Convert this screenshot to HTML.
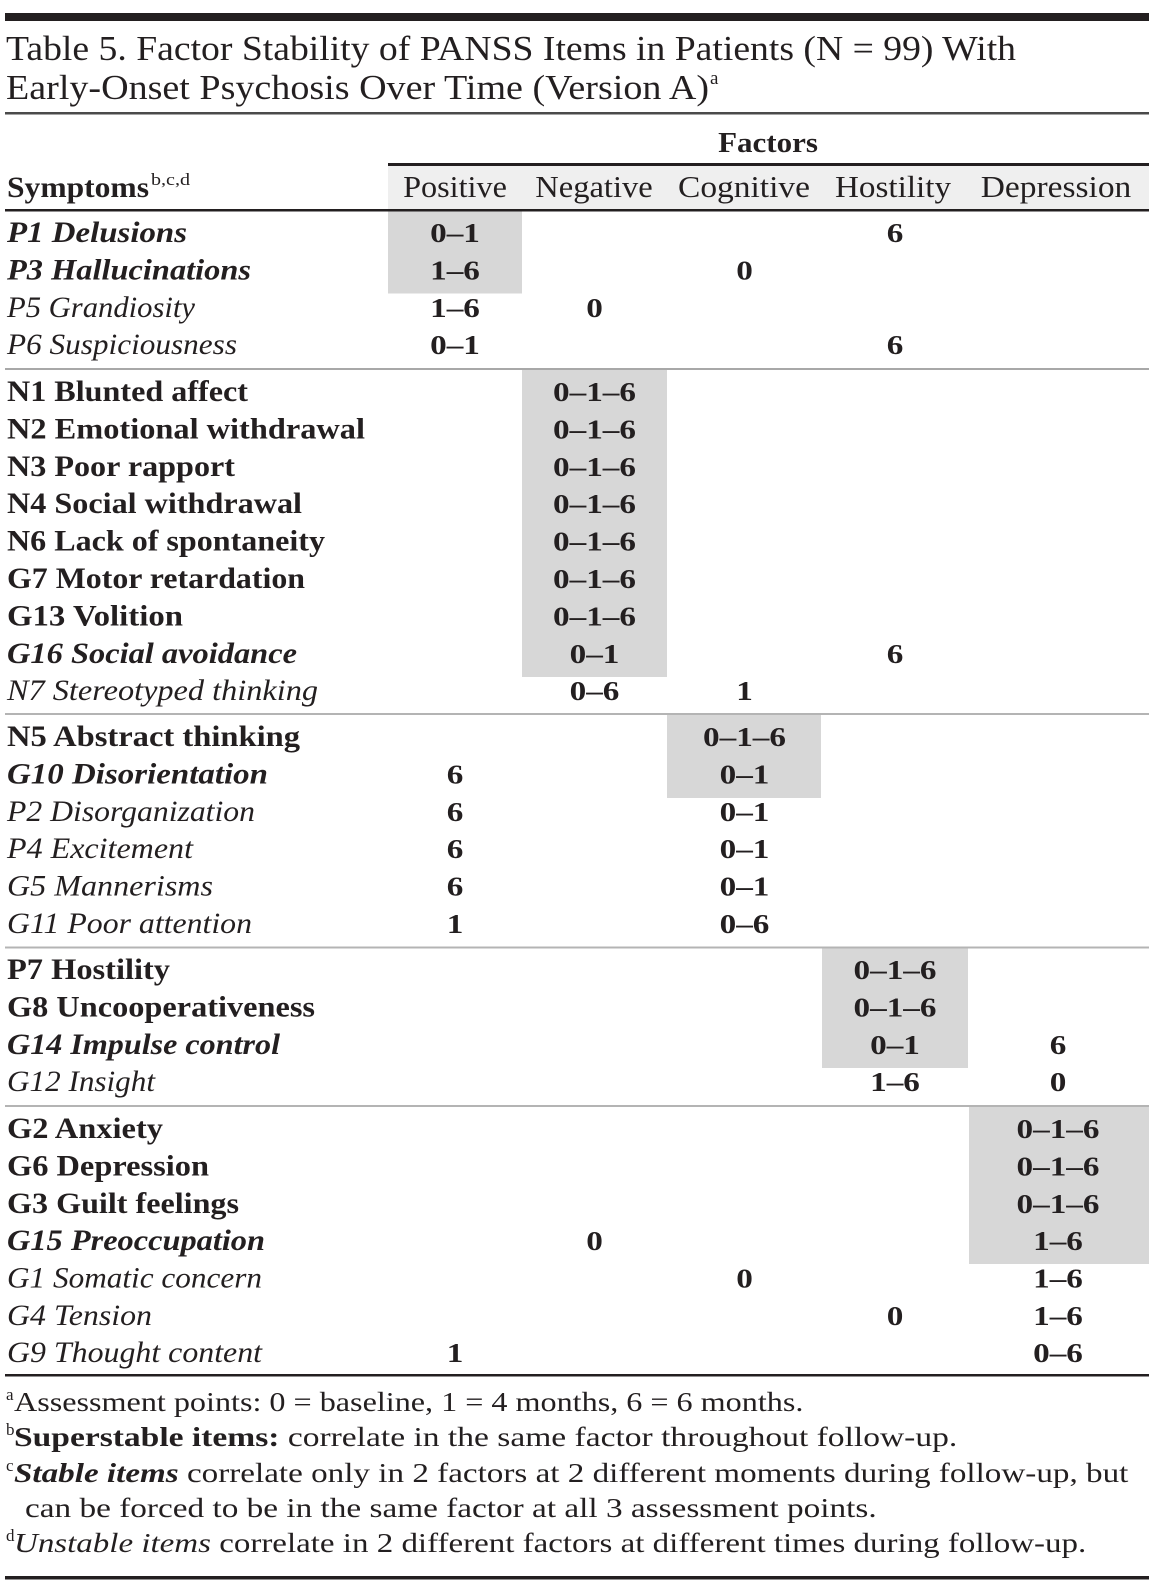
<!DOCTYPE html>
<html>
<head>
<meta charset="utf-8">
<style>
html,body{margin:0;padding:0;background:#fff;}
svg{display:block;}
text{font-family:"Liberation Serif","DejaVu Serif",serif;fill:#231f20;}
.l{font-size:29.5px;}
.b{font-weight:bold;}
.i{font-style:italic;}
.n{font-size:27px;font-weight:bold;text-anchor:middle;}
.h{font-size:31px;text-anchor:middle;}
.f{font-size:27.5px;}
.s{font-size:17px;}
</style>
</head>
<body>
<svg width="1158" height="1584" viewBox="0 0 1158 1584" xmlns="http://www.w3.org/2000/svg">
<rect x="0" y="0" width="1158" height="1584" fill="#fff"/>

<!-- top bar -->
<rect x="5" y="13" width="1144" height="8" fill="#231f20"/>

<!-- title -->
<text x="6" y="60" font-size="35" textLength="1010" lengthAdjust="spacingAndGlyphs">Table 5. Factor Stability of PANSS Items in Patients (N = 99) With</text>
<text x="6" y="99" font-size="35" textLength="703" lengthAdjust="spacingAndGlyphs">Early-Onset Psychosis Over Time (Version A)</text>
<text x="710" y="84" font-size="19">a</text>

<!-- title rule -->
<rect x="5" y="112" width="1144" height="2.5" fill="#4a4a4a"/>

<!-- Factors -->
<text class="b" font-size="29" text-anchor="middle" transform="translate(768,152) scale(1.07,1)">Factors</text>
<rect x="388" y="163" width="761" height="3" fill="#231f20"/>

<!-- header background -->
<rect x="388" y="166" width="761" height="43" fill="#efefef"/>

<!-- shaded blocks -->
<rect x="388" y="211.5" width="134" height="82" fill="#d7d7d7"/>
<rect x="522" y="370" width="145" height="307" fill="#d7d7d7"/>
<rect x="667" y="715" width="154" height="83" fill="#d7d7d7"/>
<rect x="822" y="948" width="146" height="120" fill="#d7d7d7"/>
<rect x="969" y="1107" width="180" height="157" fill="#d7d7d7"/>

<!-- header text -->
<text x="7" y="197" class="b" font-size="30" textLength="142" lengthAdjust="spacingAndGlyphs">Symptoms</text>
<text x="151" y="185" class="s" textLength="39" lengthAdjust="spacingAndGlyphs">b,c,d</text>
<text class="h" transform="translate(455,197) scale(1.04,1)">Positive</text>
<text class="h" transform="translate(594,197) scale(1.05,1)">Negative</text>
<text class="h" transform="translate(744,197) scale(1.08,1)">Cognitive</text>
<text class="h" transform="translate(893,197) scale(1.07,1)">Hostility</text>
<text class="h" transform="translate(1056,197) scale(1.08,1)">Depression</text>

<rect x="5" y="209" width="1144" height="2.5" fill="#231f20"/>

<!-- group separators -->
<rect x="5" y="368" width="1144" height="2" fill="#a8a8a8"/>
<rect x="5" y="713" width="1144" height="2" fill="#b4b4b4"/>
<rect x="5" y="946.5" width="1144" height="2" fill="#b4b4b4"/>
<rect x="5" y="1105" width="1144" height="2" fill="#b4b4b4"/>
<rect x="5" y="1374" width="1144" height="2.5" fill="#231f20"/>

<!-- Group 1 -->
<text x="7" y="242" class="l b i" textLength="180" lengthAdjust="spacingAndGlyphs">P1 Delusions</text>
<text x="7" y="279.4" class="l b i" textLength="244" lengthAdjust="spacingAndGlyphs">P3 Hallucinations</text>
<text x="7" y="316.8" class="l i" textLength="188" lengthAdjust="spacingAndGlyphs">P5 Grandiosity</text>
<text x="7" y="354.2" class="l i" textLength="230" lengthAdjust="spacingAndGlyphs">P6 Suspiciousness</text>

<text class="n" transform="translate(455,242) scale(1.23,1)">0–1</text>
<text class="n" transform="translate(895,242) scale(1.23,1)">6</text>
<text class="n" transform="translate(455,279.4) scale(1.23,1)">1–6</text>
<text class="n" transform="translate(744.5,279.4) scale(1.23,1)">0</text>
<text class="n" transform="translate(455,316.8) scale(1.23,1)">1–6</text>
<text class="n" transform="translate(594.5,316.8) scale(1.23,1)">0</text>
<text class="n" transform="translate(455,354.2) scale(1.23,1)">0–1</text>
<text class="n" transform="translate(895,354.2) scale(1.23,1)">6</text>

<!-- Group 2 -->
<text x="7" y="401" class="l b" textLength="241" lengthAdjust="spacingAndGlyphs">N1 Blunted affect</text>
<text x="7" y="438.4" class="l b" textLength="358" lengthAdjust="spacingAndGlyphs">N2 Emotional withdrawal</text>
<text x="7" y="475.8" class="l b" textLength="228" lengthAdjust="spacingAndGlyphs">N3 Poor rapport</text>
<text x="7" y="513.2" class="l b" textLength="295" lengthAdjust="spacingAndGlyphs">N4 Social withdrawal</text>
<text x="7" y="550.6" class="l b" textLength="318" lengthAdjust="spacingAndGlyphs">N6 Lack of spontaneity</text>
<text x="7" y="588" class="l b" textLength="298" lengthAdjust="spacingAndGlyphs">G7 Motor retardation</text>
<text x="7" y="625.4" class="l b" textLength="176" lengthAdjust="spacingAndGlyphs">G13 Volition</text>
<text x="7" y="662.8" class="l b i" textLength="290" lengthAdjust="spacingAndGlyphs">G16 Social avoidance</text>
<text x="7" y="700.2" class="l i" textLength="311" lengthAdjust="spacingAndGlyphs">N7 Stereotyped thinking</text>

<text class="n" transform="translate(594.5,401) scale(1.23,1)">0–1–6</text>
<text class="n" transform="translate(594.5,438.4) scale(1.23,1)">0–1–6</text>
<text class="n" transform="translate(594.5,475.8) scale(1.23,1)">0–1–6</text>
<text class="n" transform="translate(594.5,513.2) scale(1.23,1)">0–1–6</text>
<text class="n" transform="translate(594.5,550.6) scale(1.23,1)">0–1–6</text>
<text class="n" transform="translate(594.5,588) scale(1.23,1)">0–1–6</text>
<text class="n" transform="translate(594.5,625.4) scale(1.23,1)">0–1–6</text>
<text class="n" transform="translate(594.5,662.8) scale(1.23,1)">0–1</text>
<text class="n" transform="translate(895,662.8) scale(1.23,1)">6</text>
<text class="n" transform="translate(594.5,700.2) scale(1.23,1)">0–6</text>
<text class="n" transform="translate(744.5,700.2) scale(1.23,1)">1</text>

<!-- Group 3 -->
<text x="7" y="746" class="l b" textLength="293" lengthAdjust="spacingAndGlyphs">N5 Abstract thinking</text>
<text x="7" y="783.4" class="l b i" textLength="261" lengthAdjust="spacingAndGlyphs">G10 Disorientation</text>
<text x="7" y="820.8" class="l i" textLength="248" lengthAdjust="spacingAndGlyphs">P2 Disorganization</text>
<text x="7" y="858.2" class="l i" textLength="186" lengthAdjust="spacingAndGlyphs">P4 Excitement</text>
<text x="7" y="895.6" class="l i" textLength="206" lengthAdjust="spacingAndGlyphs">G5 Mannerisms</text>
<text x="7" y="933" class="l i" textLength="245" lengthAdjust="spacingAndGlyphs">G11 Poor attention</text>

<text class="n" transform="translate(744.5,746) scale(1.23,1)">0–1–6</text>
<text class="n" transform="translate(455,783.4) scale(1.23,1)">6</text>
<text class="n" transform="translate(744.5,783.4) scale(1.23,1)">0–1</text>
<text class="n" transform="translate(455,820.8) scale(1.23,1)">6</text>
<text class="n" transform="translate(744.5,820.8) scale(1.23,1)">0–1</text>
<text class="n" transform="translate(455,858.2) scale(1.23,1)">6</text>
<text class="n" transform="translate(744.5,858.2) scale(1.23,1)">0–1</text>
<text class="n" transform="translate(455,895.6) scale(1.23,1)">6</text>
<text class="n" transform="translate(744.5,895.6) scale(1.23,1)">0–1</text>
<text class="n" transform="translate(455,933) scale(1.23,1)">1</text>
<text class="n" transform="translate(744.5,933) scale(1.23,1)">0–6</text>

<!-- Group 4 -->
<text x="7" y="979" class="l b" textLength="163" lengthAdjust="spacingAndGlyphs">P7 Hostility</text>
<text x="7" y="1016.4" class="l b" textLength="308" lengthAdjust="spacingAndGlyphs">G8 Uncooperativeness</text>
<text x="7" y="1053.8" class="l b i" textLength="273" lengthAdjust="spacingAndGlyphs">G14 Impulse control</text>
<text x="7" y="1091.2" class="l i" textLength="148" lengthAdjust="spacingAndGlyphs">G12 Insight</text>

<text class="n" transform="translate(895,979) scale(1.23,1)">0–1–6</text>
<text class="n" transform="translate(895,1016.4) scale(1.23,1)">0–1–6</text>
<text class="n" transform="translate(895,1053.8) scale(1.23,1)">0–1</text>
<text class="n" transform="translate(1058,1053.8) scale(1.23,1)">6</text>
<text class="n" transform="translate(895,1091.2) scale(1.23,1)">1–6</text>
<text class="n" transform="translate(1058,1091.2) scale(1.23,1)">0</text>

<!-- Group 5 -->
<text x="7" y="1138" class="l b" textLength="156" lengthAdjust="spacingAndGlyphs">G2 Anxiety</text>
<text x="7" y="1175.4" class="l b" textLength="202" lengthAdjust="spacingAndGlyphs">G6 Depression</text>
<text x="7" y="1212.8" class="l b" textLength="232" lengthAdjust="spacingAndGlyphs">G3 Guilt feelings</text>
<text x="7" y="1250.2" class="l b i" textLength="258" lengthAdjust="spacingAndGlyphs">G15 Preoccupation</text>
<text x="7" y="1287.6" class="l i" textLength="255" lengthAdjust="spacingAndGlyphs">G1 Somatic concern</text>
<text x="7" y="1325" class="l i" textLength="145" lengthAdjust="spacingAndGlyphs">G4 Tension</text>
<text x="7" y="1362" class="l i" textLength="255" lengthAdjust="spacingAndGlyphs">G9 Thought content</text>

<text class="n" transform="translate(1058,1138) scale(1.23,1)">0–1–6</text>
<text class="n" transform="translate(1058,1175.4) scale(1.23,1)">0–1–6</text>
<text class="n" transform="translate(1058,1212.8) scale(1.23,1)">0–1–6</text>
<text class="n" transform="translate(594.5,1250.2) scale(1.23,1)">0</text>
<text class="n" transform="translate(1058,1250.2) scale(1.23,1)">1–6</text>
<text class="n" transform="translate(744.5,1287.6) scale(1.23,1)">0</text>
<text class="n" transform="translate(1058,1287.6) scale(1.23,1)">1–6</text>
<text class="n" transform="translate(895,1325) scale(1.23,1)">0</text>
<text class="n" transform="translate(1058,1325) scale(1.23,1)">1–6</text>
<text class="n" transform="translate(455,1362) scale(1.23,1)">1</text>
<text class="n" transform="translate(1058,1362) scale(1.23,1)">0–6</text>

<!-- Footnotes -->
<text x="6" y="1400" class="s">a</text>
<text class="f" transform="translate(14,1411) scale(1.17,1)">Assessment points: 0 = baseline, 1 = 4 months, 6 = 6 months.</text>

<text x="6" y="1435" class="s">b</text>
<text class="f" transform="translate(14,1446) scale(1.22,1)"><tspan font-weight="bold">Superstable items:</tspan> correlate in the same factor throughout follow-up.</text>

<text x="6" y="1471" class="s">c</text>
<text class="f" transform="translate(14,1482) scale(1.205,1)"><tspan font-weight="bold" font-style="italic">Stable items</tspan> correlate only in 2 factors at 2 different moments during follow-up, but</text>

<text class="f" transform="translate(25,1517) scale(1.21,1)">can be forced to be in the same factor at all 3 assessment points.</text>

<text x="6" y="1541" class="s">d</text>
<text class="f" transform="translate(14,1552) scale(1.2,1)"><tspan font-style="italic">Unstable items</tspan> correlate in 2 different factors at different times during follow-up.</text>

<!-- bottom rule -->
<rect x="5" y="1576" width="1144" height="3.5" fill="#231f20"/>
</svg>
</body>
</html>
